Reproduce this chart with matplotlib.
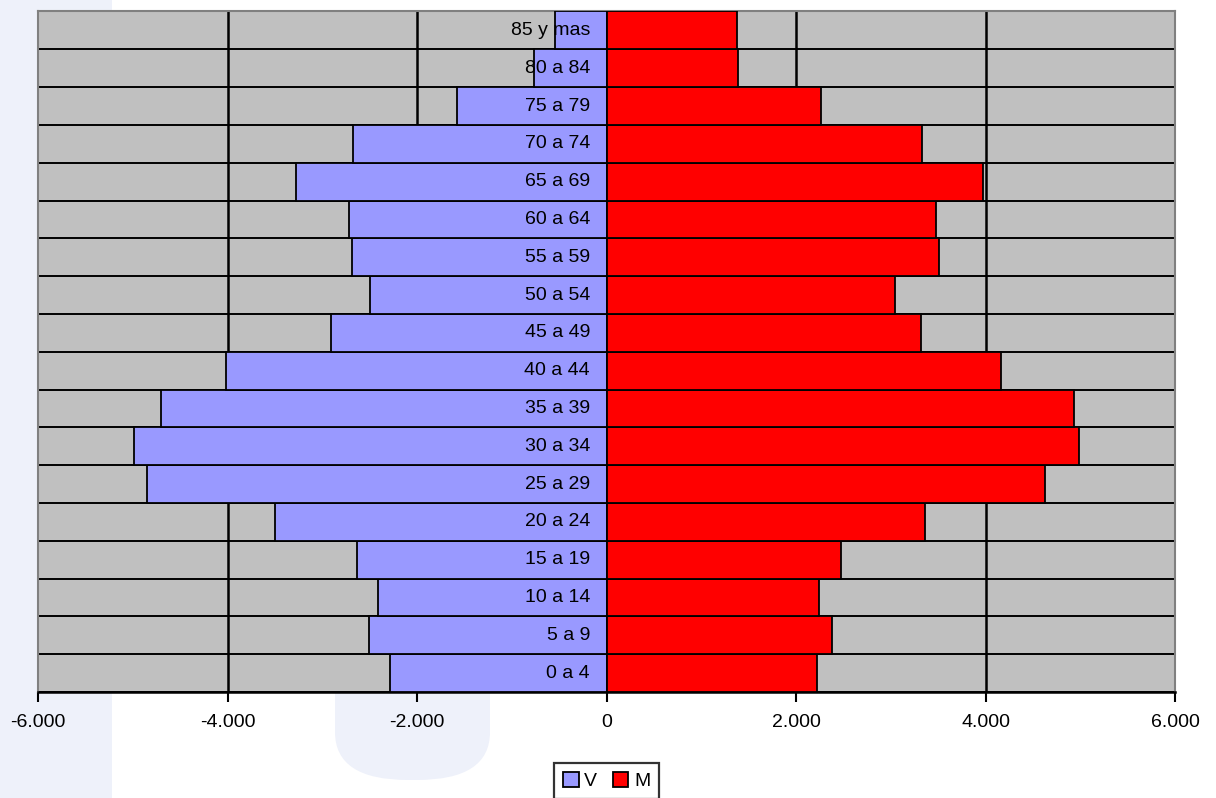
import matplotlib.pyplot as plt
from matplotlib.patches import Rectangle, FancyBboxPatch

plt.rcParams['font.family'] = ['Liberation Sans', 'DejaVu Sans']

# grupos de edad, de abajo hacia arriba
grupos = ['0 a 4', '5 a 9', '10 a 14', '15 a 19', '20 a 24', '25 a 29',
          '30 a 34', '35 a 39', '40 a 44', '45 a 49', '50 a 54', '55 a 59',
          '60 a 64', '65 a 69', '70 a 74', '75 a 79', '80 a 84', '85 y mas']

# varones (negativos) y mujeres
varones = [-2290, -2510, -2410, -2640, -3500, -4850, -4990, -4700, -4020,
           -2915, -2500, -2690, -2720, -3280, -2675, -1585, -770, -540]
mujeres = [2220, 2380, 2240, 2470, 3365, 4625, 4990, 4930, 4160,
           3320, 3040, 3510, 3480, 3975, 3330, 2266, 1386, 1380]

ticks_x = [-6000, -4000, -2000, 0, 2000, 4000, 6000]
tick_labels = ['-6.000', '-4.000', '-2.000', '0', '2.000', '4.000', '6.000']

fig = plt.figure(figsize=(12.16, 7.98), dpi=100)
fig.patch.set_facecolor('white')

# marca de agua de fondo (tonos azul muy claro), detras de los ejes
fig.patches.append(Rectangle((0, 0), 112 / 1216, 1, transform=fig.transFigure,
                             facecolor='#EEF1FA', edgecolor='none', zorder=-5))
fig.patches.append(FancyBboxPatch((335 / 1216, 18 / 798), 155 / 1216, 330 / 798,
                                  boxstyle='round,pad=0,rounding_size=0.06',
                                  transform=fig.transFigure, facecolor='#EEF1FA',
                                  edgecolor='none', zorder=-5))

ax = fig.add_axes([38.3 / 1216, 1 - 692 / 798, (1175 - 38.3) / 1216, (692 - 11.5) / 798])
ax.set_zorder(1)
ax.set_facecolor('#C0C0C0')

y = range(len(grupos))
ax.barh(y, varones, height=1.0, color='#9999FF', edgecolor='black', linewidth=1.3,
        label='V', zorder=3)
ax.barh(y, mujeres, height=1.0, color='#FF0000', edgecolor='black', linewidth=1.3,
        label='M', zorder=3)

# lineas horizontales entre filas
for k in range(len(grupos) + 1):
    ax.axhline(k - 0.5, color='black', linewidth=1.4, zorder=2)

for xv in [-4000, -2000, 2000, 4000]:
    ax.axvline(xv, color='black', linewidth=1.8, zorder=1)

for i, g in enumerate(grupos):
    ax.text(-175, i, g, ha='right', va='center', fontsize=14, zorder=4)

ax.set_xlim(-6000, 6000)
ax.set_ylim(-0.5, len(grupos) - 0.5)
ax.set_yticks([])
ax.set_xticks(ticks_x)
ax.set_xticklabels(tick_labels, fontsize=14)
ax.tick_params(axis='x', direction='out', length=7, width=1.5, pad=9, color='black')

for side in ['top', 'left', 'right']:
    ax.spines[side].set_color('#808080')
    ax.spines[side].set_linewidth(1.5)
ax.spines['bottom'].set_color('black')
ax.spines['bottom'].set_linewidth(1.8)

leg = fig.legend(loc='center', bbox_to_anchor=(0.499, 0.021), ncol=2, fontsize=14,
                 frameon=True, fancybox=False, handlelength=0.8, handleheight=0.8,
                 handletextpad=0.3, columnspacing=0.8, borderpad=0.45,
                 borderaxespad=0)
leg.get_frame().set_edgecolor('black')
leg.get_frame().set_linewidth(1.6)
leg.set_zorder(2)

fig.savefig('out.png', dpi=100, facecolor=fig.get_facecolor())
